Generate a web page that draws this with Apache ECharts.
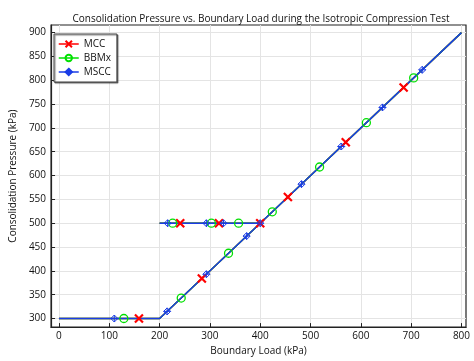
<!DOCTYPE html>
<html><head><meta charset="utf-8">
<script src="https://cdn.jsdelivr.net/npm/echarts@6/dist/echarts.min.js"></script>
<style>html,body{margin:0;padding:0;background:#fff}#c{width:474px;height:361px}</style>
</head><body><div id="c"></div>
<script>
// Load path (same for all three models)
const pathX = [0, 200, 400, 200, 400, 800];
const pathY = [300, 300, 500, 500, 500, 900];
// Marker positions per model
const mccX = [159, 284, 400, 318, 241, 455, 570, 685];
const mccY = [300, 384, 500, 500, 500, 555, 670, 785];
const bbmxX = [129, 243, 357, 303, 226, 337, 424, 518, 611, 705];
const bbmxY = [300, 343, 500, 500, 500, 437, 524, 618, 711, 805];
const msccX = [110, 215, 293, 373, 400, 327, 293, 216, 482, 561, 643, 722];
const msccY = [300, 315, 393, 473, 500, 500, 500, 500, 582, 661, 743, 822];
const xTicks = [0, 100, 200, 300, 400, 500, 600, 700, 800];
const yTicks = [300, 350, 400, 450, 500, 550, 600, 650, 700, 750, 800, 850, 900];

const zip = (a, b) => a.map((v, i) => [v, b[i]]);
const FONT = 'Open Sans';
const cRed = '#ff0000', cGreen = '#00e000', cBlue = '#1a3ce6';

const chart = echarts.init(document.getElementById('c'));
chart.setOption({
  animation: false,
  backgroundColor: '#fff',
  title: {
    text: 'Consolidation Pressure vs. Boundary Load during the Isotropic Compression Test',
    left: 256, top: 9, textAlign: 'center',
    textStyle: { fontFamily: FONT, fontSize: 10, fontWeight: 'normal', color: '#111' }
  },
  grid: { left: 45, right: 8, top: 25, bottom: 29, show: true, borderColor: '#222', borderWidth: 1.2, backgroundColor: 'transparent' },
  xAxis: {
    type: 'value', min: -15.7, max: 809,
    name: 'Boundary Load (kPa)', nameLocation: 'middle', nameGap: 17,
    nameTextStyle: { fontFamily: FONT, fontSize: 10, color: '#111' },
    axisLine: { show: true, onZero: false, lineStyle: { color: '#222', width: 1.2 } },
    axisTick: { show: true, inside: true, length: 4, customValues: xTicks, lineStyle: { color: '#222' } },
    axisLabel: { customValues: xTicks, fontFamily: FONT, fontSize: 10, color: '#111', margin: 4 },
    splitLine: { show: false }
  },
  yAxis: {
    type: 'value', min: 282, max: 916,
    name: 'Consolidation Pressure (kPa)', nameLocation: 'middle', nameGap: 33,
    nameTextStyle: { fontFamily: FONT, fontSize: 10, color: '#111' },
    axisLine: { show: true, onZero: false, lineStyle: { color: '#222', width: 1.2 } },
    axisTick: { show: true, inside: true, length: 4, customValues: yTicks, lineStyle: { color: '#222' } },
    axisLabel: { customValues: yTicks, fontFamily: FONT, fontSize: 10, color: '#111', margin: 5 },
    splitLine: { show: false }
  },
  legend: {
    orient: 'vertical', left: 54, top: 34,
    padding: [5, 6, 5, 4], itemGap: 4, itemWidth: 20, itemHeight: 8,
    backgroundColor: '#fff', borderColor: '#444', borderWidth: 1,
    shadowColor: 'rgba(0,0,0,0.5)', shadowOffsetX: 1, shadowOffsetY: 1, shadowBlur: 1,
    textStyle: { fontFamily: FONT, fontSize: 10, color: '#111' },
    data: [
      { name: 'MCC', lineStyle: { color: cRed, width: 1.5, opacity: 1 } },
      { name: 'BBMx', lineStyle: { color: cGreen, width: 1.5, opacity: 1 } },
      { name: 'MSCC', lineStyle: { color: cBlue, width: 1.5, opacity: 1 } }
    ]
  },
  series: [
    {
      type: 'line', silent: true, data: [], z: 0,
      markLine: {
        silent: true, symbol: 'none', label: { show: false }, z: 0,
        lineStyle: { color: '#e4e4e4', width: 1, type: 'solid' },
        emphasis: { disabled: true },
        data: xTicks.map(v => ({ xAxis: v })).concat(yTicks.map(v => ({ yAxis: v })))
      }
    },
    { type: 'line', name: '_pathR', data: zip(pathX, pathY), showSymbol: false, silent: true,
      lineStyle: { color: cRed, width: 1.5 }, z: 2 },
    { type: 'line', name: '_pathG', data: zip(pathX, pathY), showSymbol: false, silent: true,
      lineStyle: { color: cGreen, width: 1.5 }, z: 2 },
    { type: 'line', name: '_pathB', data: zip(pathX, pathY), showSymbol: false, silent: true,
      lineStyle: { color: cBlue, width: 1.5 }, z: 2 },
    { type: 'line', name: 'MCC', data: zip(mccX, mccY), z: 3,
      symbol: 'path://M-1,-1L1,1M-1,1L1,-1', symbolSize: 8,
      lineStyle: { opacity: 0 },
      itemStyle: { color: cRed, borderColor: cRed, borderWidth: 2.2 } },
    { type: 'line', name: 'BBMx', data: zip(bbmxX, bbmxY), z: 3,
      symbol: 'circle', symbolSize: 8,
      lineStyle: { opacity: 0 },
      itemStyle: { color: 'rgba(0,0,0,0)', borderColor: cGreen, borderWidth: 1.3 } },
    { type: 'line', name: 'MSCC', data: zip(msccX, msccY), z: 3,
      symbol: 'path://M0,-1L1,0L0,1L-1,0ZM-1,0L1,0M0,-1L0,1', symbolSize: 7,
      lineStyle: { opacity: 0 },
      itemStyle: { color: 'rgba(0,0,0,0)', borderColor: cBlue, borderWidth: 1 } }
  ]
});
</script></body></html>
